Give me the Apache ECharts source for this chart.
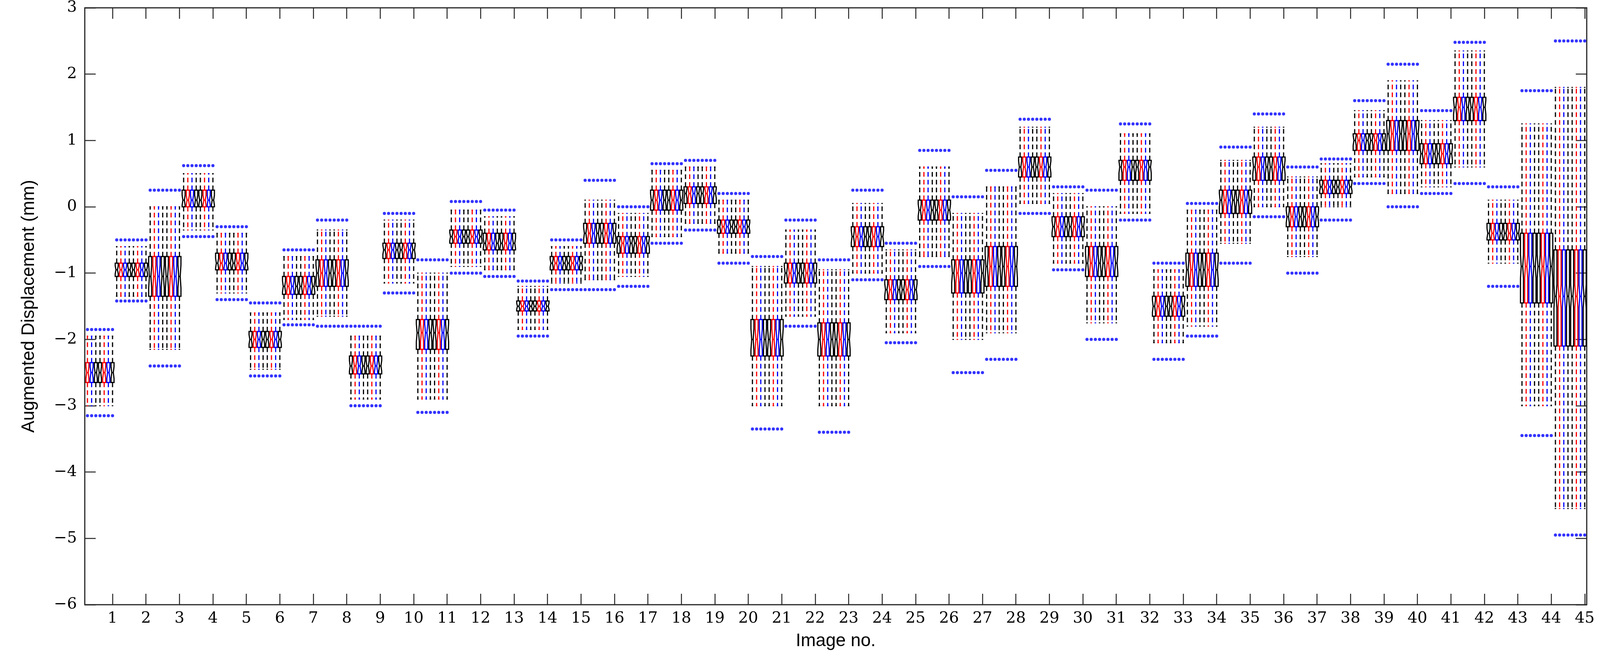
<!DOCTYPE html>
<html>
<head>
<meta charset="utf-8">
<script src="https://cdn.jsdelivr.net/npm/echarts@6/dist/echarts.min.js"></script>
<style>html,body{margin:0;padding:0;background:#fff;overflow:hidden}#main{width:100vw;height:100vh}</style>
</head>
<body>
<div id="main"></div>
<script>
//每组 (Image no.) 的箱线图统计量
var med = [-2.5,-0.95,-1.05,0.1,-0.85,-2.0,-1.2,-1.0,-2.4,-0.65,-1.9,-0.45,-0.55,-1.5,-0.85,-0.4,-0.55,0.1,0.2,-0.3,-2.0,-1.0,-2.0,-0.45,-1.25,-0.05,-1.0,-0.9,0.6,-0.3,-0.85,0.6,-1.5,-0.95,0.1,0.6,-0.15,0.3,1.0,1.1,0.8,1.5,-0.4,-0.9,-1.35];
var q1 = [-2.65,-1.05,-1.35,0.0,-0.95,-2.12,-1.32,-1.2,-2.52,-0.78,-2.15,-0.55,-0.65,-1.57,-0.95,-0.55,-0.7,-0.05,0.05,-0.4,-2.25,-1.15,-2.25,-0.6,-1.4,-0.2,-1.3,-1.2,0.45,-0.45,-1.05,0.4,-1.65,-1.2,-0.1,0.4,-0.3,0.2,0.85,0.85,0.65,1.3,-0.5,-1.45,-2.1];
var q3 = [-2.35,-0.85,-0.75,0.25,-0.7,-1.88,-1.05,-0.8,-2.25,-0.55,-1.7,-0.35,-0.4,-1.42,-0.75,-0.25,-0.45,0.25,0.3,-0.2,-1.7,-0.85,-1.75,-0.3,-1.1,0.1,-0.8,-0.6,0.75,-0.15,-0.6,0.7,-1.35,-0.7,0.25,0.75,0.0,0.4,1.1,1.3,0.95,1.65,-0.25,-0.4,-0.65];
var lo = [-3.0,-1.35,-2.15,-0.35,-1.3,-2.45,-1.7,-1.65,-2.9,-1.15,-2.9,-0.9,-0.95,-1.85,-1.15,-1.1,-1.05,-0.45,-0.25,-0.7,-3.0,-1.65,-3.0,-1.0,-1.9,-0.75,-2.0,-1.9,0.05,-0.85,-1.75,-0.1,-2.05,-1.8,-0.55,0.0,-0.75,0.0,0.45,0.2,0.3,0.6,-0.85,-3.0,-4.55];
var hi = [-1.95,-0.6,0.0,0.5,-0.4,-1.6,-0.75,-0.35,-1.95,-0.2,-1.0,-0.05,-0.15,-1.2,-0.6,0.1,-0.1,0.55,0.6,0.1,-0.9,-0.35,-0.95,0.05,-0.65,0.6,-0.1,0.3,1.2,0.2,0.0,1.1,-0.95,-0.05,0.7,1.2,0.45,0.65,1.45,1.9,1.3,2.35,0.1,1.25,1.8];
var outHi = [-1.85,-0.5,0.25,0.62,-0.3,-1.45,-0.65,-0.2,-1.8,-0.1,-0.8,0.08,-0.05,-1.12,-0.5,0.4,0.0,0.65,0.7,0.2,-0.75,-0.2,-0.8,0.25,-0.55,0.85,0.15,0.55,1.32,0.3,0.25,1.25,-0.85,0.05,0.9,1.4,0.6,0.72,1.6,2.15,1.45,2.48,0.3,1.75,2.5];
var outLo = [-3.15,-1.42,-2.4,-0.45,-1.4,-2.55,-1.78,-1.8,-3.0,-1.3,-3.1,-1.0,-1.05,-1.95,-1.25,-1.25,-1.2,-0.55,-0.35,-0.85,-3.35,-1.8,-3.4,-1.1,-2.05,-0.9,-2.5,-2.3,-0.1,-0.95,-2.0,-0.2,-2.3,-1.95,-0.85,-0.15,-1.0,-0.2,0.35,0.0,0.2,0.35,-1.2,-3.45,-4.95];
var slotColors = ['#000000','#ff0000','#0000ff','#000000','#000000','#ff0000','#0000ff','#000000'];
var tickValues = [];
for (var t = 1; t <= 45; t++) tickValues.push(t);

var boxData = [], outData = [];
for (var g = 0; g < med.length; g++) {
    for (var j = 0; j < 8; j++) {
        var x = (g + 1) - 0.875 + 0.125 * j;
        boxData.push([x, lo[g], q1[g], med[g], q3[g], hi[g], j]);
        outData.push([x, outHi[g]]);
        outData.push([x, outLo[g]]);
    }
}

function renderBox(params, api) {
    var x = api.value(0), c = slotColors[api.value(6)];
    var w = api.size([0.09, 0])[0];
    var pLo = api.coord([x, api.value(1)]), pQ1 = api.coord([x, api.value(2)]);
    var pMed = api.coord([x, api.value(3)]), pQ3 = api.coord([x, api.value(4)]);
    var pHi = api.coord([x, api.value(5)]);
    var cx = pMed[0], xl = cx - w / 2, xr = cx + w / 2;
    var n = Math.min((pQ1[1] - pQ3[1]) * 0.3, 30);
    var pts = [[xl, pQ3[1]], [xr, pQ3[1]], [xr, pMed[1] - n], [xr - w / 4, pMed[1]], [xr, pMed[1] + n],
        [xr, pQ1[1]], [xl, pQ1[1]], [xl, pMed[1] + n], [xl + w / 4, pMed[1]], [xl, pMed[1] - n]];
    return {
        type: 'group',
        children: [
            {type: 'line', shape: {x1: cx, y1: pQ3[1], x2: cx, y2: pHi[1]}, style: {stroke: c, lineWidth: 3, lineDash: [12, 8]}},
            {type: 'line', shape: {x1: cx, y1: pQ1[1], x2: cx, y2: pLo[1]}, style: {stroke: c, lineWidth: 3, lineDash: [12, 8]}},
            {type: 'line', shape: {x1: cx - w / 4, y1: pHi[1], x2: cx + w / 4, y2: pHi[1]}, style: {stroke: c, lineWidth: 2.5}},
            {type: 'line', shape: {x1: cx - w / 4, y1: pLo[1], x2: cx + w / 4, y2: pLo[1]}, style: {stroke: c, lineWidth: 2.5}},
            {type: 'polygon', shape: {points: pts}, style: {fill: 'none', stroke: c, lineWidth: 3}},
            {type: 'line', shape: {x1: xl + w / 4, y1: pMed[1], x2: xr - w / 4, y2: pMed[1]}, style: {stroke: c, lineWidth: 3}}
        ]
    };
}

var tickFont = {fontFamily: 'DejaVu Serif', fontSize: 40, color: '#000'};
var tickLine = {color: '#262626', width: 2.5};
var option = {
    animation: false,
    backgroundColor: '#fff',
    grid: {left: 217, right: 34, top: 14, bottom: 106, show: true, borderColor: '#262626', borderWidth: 3},
    xAxis: [{
        type: 'value', min: 0.17, max: 45.06,
        name: 'Image no.', nameLocation: 'middle', nameGap: 70,
        nameTextStyle: {fontFamily: 'Liberation Sans', fontSize: 46, color: '#000'},
        axisLine: {show: false, onZero: false},
        axisTick: {show: true, inside: true, length: 28, customValues: tickValues, lineStyle: tickLine},
        axisLabel: Object.assign({customValues: tickValues, margin: 16}, tickFont),
        splitLine: {show: false}
    }, {
        type: 'value', min: 0.17, max: 45.06, position: 'top',
        axisLine: {show: false, onZero: false},
        axisTick: {show: true, inside: true, length: 28, customValues: tickValues, lineStyle: tickLine},
        axisLabel: {show: false}, splitLine: {show: false}
    }],
    yAxis: [{
        type: 'value', min: -6, max: 3, interval: 1,
        name: 'Augmented Displacement (mm)', nameLocation: 'middle', nameGap: 120,
        nameTextStyle: {fontFamily: 'Liberation Sans', fontSize: 46, color: '#000'},
        axisLine: {show: false, onZero: false},
        axisTick: {show: true, inside: true, length: 28, lineStyle: tickLine},
        axisLabel: Object.assign({margin: 20, formatter: function (v) { return String(v).replace('-', '\u2212'); }}, tickFont),
        splitLine: {show: false}
    }, {
        type: 'value', min: -6, max: 3, interval: 1, position: 'right',
        axisLine: {show: false, onZero: false},
        axisTick: {show: true, inside: true, length: 28, lineStyle: tickLine},
        axisLabel: {show: false}, splitLine: {show: false}
    }],
    series: [{
        type: 'custom', renderItem: renderBox, data: boxData, clip: true,
        encode: {x: 0, y: [1, 5]}
    }, {
        type: 'scatter', data: outData, symbolSize: 8,
        itemStyle: {color: '#0000ff'}
    }]
};
echarts.init(document.getElementById('main')).setOption(option);
</script>
</body>
</html>
